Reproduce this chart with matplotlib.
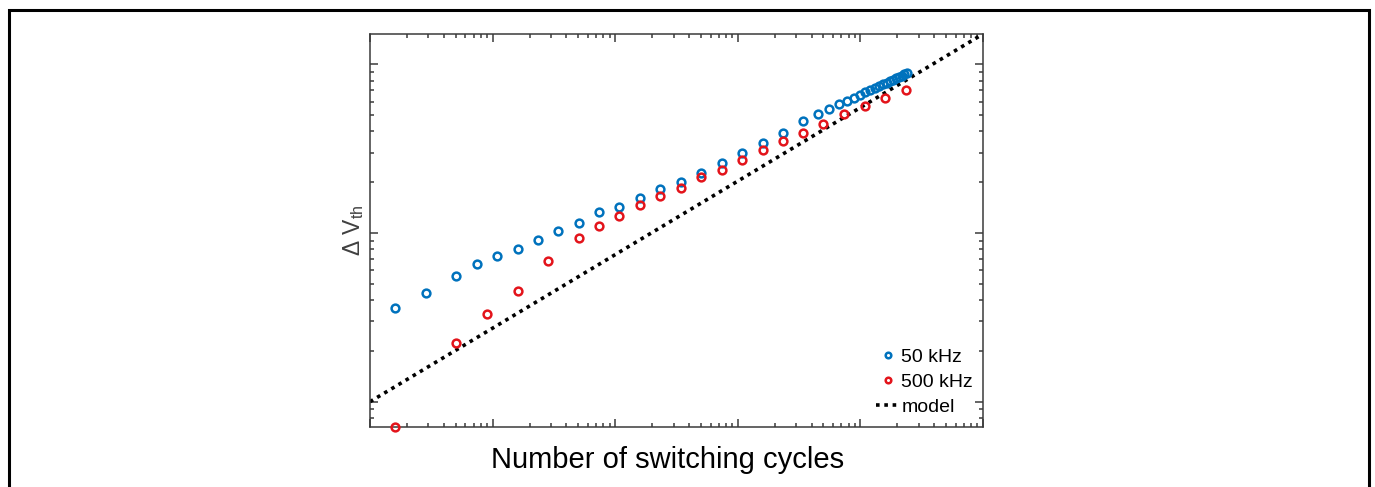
import matplotlib
matplotlib.use("Agg")
import matplotlib.pyplot as plt
from matplotlib.patches import Rectangle

plt.rcParams["font.family"] = ["Liberation Sans", "DejaVu Sans"]
plt.rcParams["mathtext.fontset"] = "custom"
plt.rcParams["mathtext.rm"] = "Liberation Sans"
plt.rcParams["mathtext.it"] = "Liberation Sans:italic"

# threshold-voltage shift vs. number of switching cycles
cycles_50k = [16.0, 28.4, 50.2, 74.1, 109, 160, 235, 343, 503, 741,
              1079, 1592, 2333, 3422, 4981, 7390, 10890, 15960, 23380,
              34050, 44850, 55650, 66450, 77250, 88050, 98850, 109650,
              120450, 131250, 142050, 152850, 163650, 174450, 185250,
              196050, 206850, 217650, 228450, 239250]
dvth_50k = [0.0359, 0.0443, 0.0558, 0.0658, 0.0731, 0.0807, 0.0905, 0.1032,
            0.1142, 0.1327, 0.1420, 0.1606, 0.1823, 0.2006, 0.2277, 0.2589,
            0.2969, 0.3429, 0.3930, 0.4612, 0.5053, 0.5433, 0.5792, 0.6085,
            0.6339, 0.6577, 0.6823, 0.7033, 0.7236, 0.7427, 0.7611, 0.7790,
            0.7951, 0.8115, 0.8272, 0.8419, 0.8558, 0.8700, 0.8833]

cycles_500k = [16.0, 50.2, 89.5, 160, 281, 503, 741, 1079, 1592, 2333,
               3422, 4981, 7390, 10890, 15960, 23380, 34050, 49770, 73910,
               108300, 158700, 233800]
dvth_500k = [0.00711, 0.02237, 0.03324, 0.0455, 0.0680, 0.0938, 0.1105,
             0.1266, 0.1460, 0.1664, 0.1856, 0.2139, 0.2362, 0.2698, 0.3092,
             0.3510, 0.3930, 0.4445, 0.5095, 0.5660, 0.6313, 0.7012]

# power-law model, straight on log-log axes
model_x = [10, 1e6]
model_y = [0.0100, 1.512]

blue = "#0072BD"
red = "#E3141B"
axis_gray = "#3a3a3a"

fig = plt.figure(figsize=(13.75, 4.87), dpi=100)
ax = fig.add_axes([370 / 1375, 60 / 487, 613 / 1375, 393 / 487])

ax.plot(cycles_50k, dvth_50k, "o", mfc="none", mec=blue, ms=5.6, mew=1.8,
        label="50 kHz", clip_on=False, zorder=3)
ax.plot(cycles_500k, dvth_500k, "o", mfc="none", mec=red, ms=5.6, mew=1.8,
        label="500 kHz", clip_on=False, zorder=3)
ax.plot(model_x, model_y, color="black", lw=2.6, linestyle=(0, (1, 1.3)),
        label="model", zorder=2)

ax.set_xscale("log")
ax.set_yscale("log")
ax.set_xlim(10, 1e6)
ax.set_ylim(0.00708, 1.512)

ax.tick_params(which="both", direction="in", top=True, right=True,
               labelbottom=False, labelleft=False, color=axis_gray, width=1.1)
ax.tick_params(which="major", length=5.5)
ax.tick_params(which="minor", length=3)
for s in ax.spines.values():
    s.set_color(axis_gray)
    s.set_linewidth(1.1)

ax.set_ylabel("Δ V$_{\\mathrm{th}}$", fontsize=16.5, color="#404040", labelpad=3)
fig.text(667.5 / 1375, (487 - 467.7) / 487, "Number of switching cycles",
         ha="center", va="baseline", fontsize=21, color="black")

ax.legend(loc="lower right", bbox_to_anchor=(0.984, 0.028), frameon=False,
          fontsize=14, borderpad=0, borderaxespad=0, handlelength=1.24,
          handletextpad=0.05, labelspacing=0.38, markerscale=0.72)

# frame round the whole figure (bottom edge runs off the canvas)
fig.patches.append(Rectangle((8.5 / 1375, -0.05), (1369 - 8.5) / 1375,
                             (487 - 10.3) / 487 + 0.05,
                             transform=fig.transFigure, fill=False,
                             edgecolor="black", lw=2.2, clip_on=False))

fig.savefig("out.png", dpi=100)
